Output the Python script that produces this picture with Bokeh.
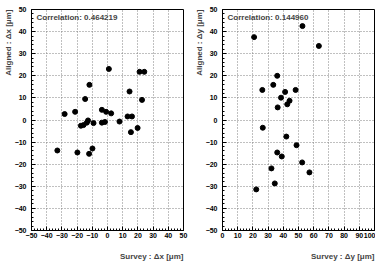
from bokeh.plotting import figure
from bokeh.layouts import row
from bokeh.models import Range1d, SingleIntervalTicker, Title, Label
from bokeh.embed import file_html
from bokeh.resources import INLINE

# ---- data ----
left_x = [-28.2, -21.3, -17.5, -15.8, -13.6, -12.8, -14.7, -11.9, -9.2, -3.7, -3.7, -1.7,
          -0.9, 0.9, 2.4, 7.9, 13.2, 14.5, 16.1, 15.4, 19.8, 21.1, 24.2, 22.7,
          -33.0, -19.8, -12.1, -9.9]
left_y = [2.7, 3.7, -2.6, -2.3, -1.2, -0.2, 9.5, 15.9, -1.4, 4.6, -1.2, -0.9,
          3.7, 23.1, 3.0, -0.7, 1.6, 12.9, 1.6, -5.5, -3.6, 21.8, 21.8, 9.1,
          -13.8, -14.7, -15.3, -12.9]
right_x = [20.8, 52.6, 63.4, 36.0, 33.4, 26.2, 41.2, 48.1, 38.5, 44.1, 42.6, 36.3,
           26.5, 42.0, 48.7, 36.0, 39.0, 52.4, 32.2, 57.2, 34.4, 22.2]
right_y = [37.5, 42.5, 33.5, 20.0, 15.9, 13.6, 12.7, 13.6, 10.1, 8.7, 7.1, 5.7,
           -3.5, -7.5, -11.4, -14.7, -16.5, -19.2, -21.9, -23.7, -28.7, -31.4]

left_corr = "Correlation: 0.464219"
right_corr = "Correlation: 0.144960"
left_xtitle = "Survey : \u0394x [\u03bcm]"
left_ytitle = "Aligned : \u0394x [\u03bcm]"
right_xtitle = "Survey : \u0394y [\u03bcm]"
right_ytitle = "Aligned : \u0394y [\u03bcm]"
left_xrange = (-50, 50)
right_xrange = (0, 100)
y_range = (-50, 50)

FONT = "Liberation Sans"


def make_panel(xs, ys, xr, corr, xtitle, ytitle, border_left, border_right):
    p = figure(frame_width=152, frame_height=221,
               x_range=Range1d(*xr), y_range=Range1d(*y_range),
               output_backend="svg", toolbar_location=None,
               min_border_left=border_left, min_border_right=border_right,
               min_border_top=9, min_border_bottom=40)
    p.background_fill_color = "white"
    p.border_fill_color = "white"
    p.outline_line_color = "black"
    p.outline_line_width = 1
    for ax in (p.xaxis[0], p.yaxis[0]):
        ax.ticker = SingleIntervalTicker(interval=10, num_minor_ticks=5)
        ax.major_tick_in = 4
        ax.major_tick_out = 0
        ax.minor_tick_in = 2
        ax.minor_tick_out = 0
        ax.axis_line_color = "black"
        ax.major_tick_line_color = "black"
        ax.minor_tick_line_color = "black"
        ax.major_label_text_font = FONT
        ax.major_label_text_font_style = "bold"
        ax.major_label_text_font_size = "7px"
        ax.major_label_text_color = "black"
    p.xaxis[0].major_label_standoff = 2
    p.yaxis[0].major_label_standoff = 5
    for g in (p.xgrid[0], p.ygrid[0]):
        g.ticker = SingleIntervalTicker(interval=10)
        g.grid_line_color = "#808080"
        g.grid_line_dash = "1 2"
        g.grid_line_width = 1
    p.scatter(xs, ys, size=5, color="black", marker="circle")
    p.add_layout(Title(text=xtitle, align="right", text_font=FONT,
                       text_font_style="bold", text_font_size="8px",
                       standoff=19), "below")
    p.add_layout(Title(text=ytitle, align="right", text_font=FONT,
                       text_font_style="bold", text_font_size="8px",
                       standoff=-2), "left")
    p.add_layout(Label(x=xr[0] + 3.3, y=48.4, text=corr, text_font=FONT,
                       text_font_style="bold", text_font_size="8px",
                       text_baseline="top", text_align="left"))
    return p


p1 = make_panel(left_x, left_y, left_xrange, left_corr, left_xtitle, left_ytitle, 31, 8)
p2 = make_panel(right_x, right_y, right_xrange, right_corr, right_xtitle, right_ytitle, 31, 1)

layout = row(p1, p2)
open("out.html", "w").write(file_html(layout, INLINE))
